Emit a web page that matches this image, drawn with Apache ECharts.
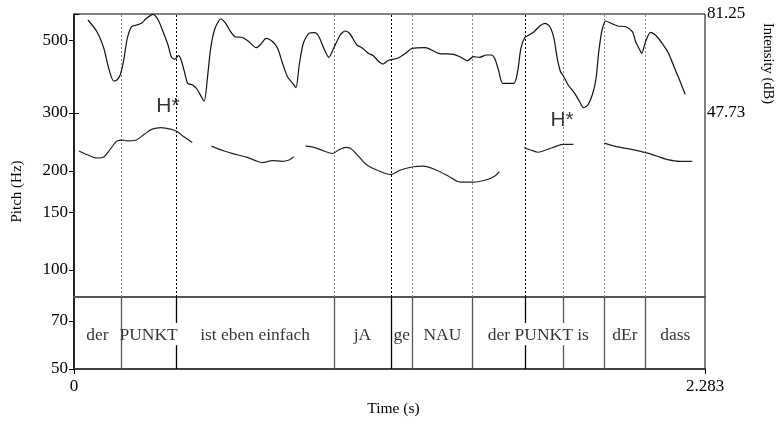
<!DOCTYPE html>
<html>
<head>
<meta charset="utf-8">
<script src="https://cdn.jsdelivr.net/npm/echarts@6/dist/echarts.min.js"></script>
<style>html,body{margin:0;padding:0;background:#fff}#c{width:783px;height:428px}</style>
</head>
<body>
<div id="c"></div>
<script>
// ---- data ----
const timeRange = [0, 2.283];
const pitchTicks = [50, 70, 100, 150, 200, 300, 500];
const pitchRange = [50, 600];
const intensityTicks = [47.73, 81.25];

// pitch contour (s, Hz); null = unvoiced gap
const pitchTimes = [0.018,0.048,0.084,0.109,0.133,0.157,0.175,0.193,0.223,0.253,0.283,0.314,0.350,0.374,0.398,0.428, null,
  0.497,0.543,0.591,0.627,0.657,0.681,0.717,0.754,0.778,0.796, null,
  0.838,0.868,0.904,0.935,0.959,0.983,1.001,1.031,1.061,1.097,1.146,1.179,1.228,1.264,1.312,1.354,1.397,1.445,1.493,1.523,1.539, null,
  1.629,1.650,1.680,1.710,1.746,1.770,1.807, null,
  1.919,1.963,2.012,2.072,2.108,2.144,2.192,2.237];
const pitchHz = [230,224,219,221,234,247,248,247,248,258,268,271,268,263,254,244, null,
  238,230,224,220,215,212,215,214,216,221, null,
  238,236,230,226,232,236,234,221,208,201,195,201,206,207,201,193,185,185,188,193,199, null,
  235,232,228,232,238,241,241, null,
  243,237,233,227,222,217,214,214];

// intensity contour (s, dB)
const intensityTimes = [0.051,0.084,0.109,0.127,0.145,0.157,0.169,0.181,0.195,0.211,0.229,0.247,0.265,0.289,0.308,0.326,0.344,0.356,0.368,0.383,0.392,0.404,0.416,0.434,0.452,0.476,0.488,0.500,0.516,0.537,0.555,0.573,0.589,0.613,0.637,0.667,0.681,0.703,0.727,0.745,0.763,0.781,0.800,0.812,0.824,0.839,0.860,0.880,0.896,0.914,0.932,0.950,0.974,0.992,1.010,1.035,1.053,1.077,1.095,1.113,1.131,1.143,1.153,1.183,1.213,1.237,1.285,1.334,1.388,1.412,1.440,1.461,1.484,1.509,1.527,1.539,1.553,1.569,1.609,1.623,1.635,1.650,1.665,1.683,1.705,1.723,1.741,1.756,1.768,1.780,1.790,1.808,1.832,1.850,1.864,1.880,1.898,1.910,1.920,1.932,1.946,1.965,1.989,2.019,2.043,2.055,2.069,2.077,2.091,2.109,2.127,2.152,2.175,2.200,2.218,2.236];
const intensityDb = [79.22,75.26,69.64,62.86,58.56,58.9,60.6,65.1,73.02,76.95,77.53,78.1,79.79,81.15,79.22,75.26,70.75,66.79,65.91,67.13,65.67,61.71,57.78,57.21,55.52,51.79,59.48,69.64,76.41,79.56,78.1,75.26,73.56,73.36,72.11,69.84,70.75,73.02,71.87,69.64,64.56,60.02,57.78,56.3,63.98,71.33,74.72,74.92,73.56,69.64,66.59,69.64,74.14,75.49,74.48,70.75,69.84,67.94,67.13,65.34,64.32,65.1,65.67,66.25,67.94,69.64,69.84,67.94,67.6,66.79,65.44,66.79,66.59,67.37,67.37,66.25,62.29,57.78,57.78,61.71,69.64,73.36,74.14,75.26,77.29,78.1,76.95,73.02,66.25,61.71,60.36,57.21,54.4,51.55,49.52,50.44,54.4,59.48,68.48,75.83,78.88,78.1,77.19,76.95,75.26,71.87,69.3,67.94,71.87,75.05,74.14,71.33,67.94,62.29,58.33,54.06];

// text tier
const tierEdges = [0, 0.170, 0.370, 0.940, 1.147, 1.225, 1.441, 1.919, 2.068, 2.283];
const tierLabels = ['der', 'PUNKT', 'ist eben einfach', 'jA', 'ge', 'NAU', 'der PUNKT is', 'dEr', 'dass'];
const extraMarks = [1.634, 1.769];          // additional boundary marks crossing the tier
const darkMarks = [0.370, 1.147, 1.634];     // boundaries drawn in black
const brokenMarks = [0.370, 1.634, 1.769];   // lines interrupted by the label text

// tone labels
const toneTimes = [0.340, 1.766];
const toneHz = [315, 286];
const toneLabels = ['H*', 'H*'];

// ---- build ----
const L = 74, W = 631, T = 14, H = 355, TIER = 72;
const serif = 'Liberation Serif';
const lg = v => Math.log10(v);

const pitchData = pitchTimes.map((t, i) => t === null ? [null, null] : [t, lg(pitchHz[i])]);
const intData = intensityTimes.map((t, i) => [t, intensityDb[i]]);

const innerEdges = tierEdges.slice(1, -1).concat(extraMarks).sort((a, b) => a - b);
const isDark = t => darkMarks.some(d => Math.abs(d - t) < 1e-6);
const isBroken = t => brokenMarks.some(d => Math.abs(d - t) < 1e-6);

const dottedLines = innerEdges.map(t => [
  {coord: [t, 0], lineStyle: {color: isDark(t) ? '#000' : '#888', type: [2, 2], width: 1}},
  {coord: [t, 1]}
]);
const tierLines = [];
innerEdges.forEach(t => {
  const ls = {color: isDark(t) ? '#000' : '#555', type: 'solid', width: 1.3};
  if (isBroken(t)) {
    tierLines.push([{coord: [t, 0], lineStyle: ls}, {coord: [t, 0.33]}]);
    tierLines.push([{coord: [t, 0.64], lineStyle: ls}, {coord: [t, 1]}]);
  } else {
    tierLines.push([{coord: [t, 0], lineStyle: ls}, {coord: [t, 1]}]);
  }
});
const tierText = tierLabels.map((s, i) => ({value: [(tierEdges[i] + tierEdges[i + 1]) / 2, 0.5], name: s}));
const toneData = toneTimes.map((t, i) => ({value: [t, lg(toneHz[i])], name: toneLabels[i]}));

const hiddenX = gi => ({type: 'value', gridIndex: gi, min: timeRange[0], max: timeRange[1], show: false});
const option = {
  animation: false,
  grid: [
    {left: L, top: T, width: W, height: H, show: true, borderColor: '#000', borderWidth: 1},
    {left: L, top: T, width: W, height: 99},
    {left: L, top: T, width: W, height: H - TIER},
    {left: L, top: T + H - TIER, width: W, height: TIER}
  ],
  xAxis: [
    {type: 'value', gridIndex: 0, min: timeRange[0], max: timeRange[1], position: 'bottom',
     name: 'Time (s)', nameLocation: 'middle', nameGap: 32,
     nameTextStyle: {fontFamily: serif, fontSize: 15.5, color: '#000', padding: [0, 0, 0, 8]},
     axisLine: {show: true, onZero: false, lineStyle: {color: '#000', width: 2}},
     axisTick: {show: true, length: 5, customValues: timeRange, lineStyle: {color: '#000'}},
     axisLabel: {customValues: timeRange, formatter: v => String(v), fontFamily: serif, fontSize: 17, color: '#000', margin: 9},
     splitLine: {show: false}},
    hiddenX(1),
    {type: 'value', gridIndex: 2, min: timeRange[0], max: timeRange[1], position: 'top',
     axisLine: {show: true, lineStyle: {color: '#555', width: 2}}, axisTick: {show: false}, axisLabel: {show: false}, splitLine: {show: false}},
    {type: 'value', gridIndex: 3, min: timeRange[0], max: timeRange[1], position: 'top',
     axisLine: {show: true, lineStyle: {color: '#555', width: 1.5}}, axisTick: {show: false}, axisLabel: {show: false}, splitLine: {show: false}}
  ],
  yAxis: [
    {type: 'value', gridIndex: 0, min: lg(pitchRange[0]), max: lg(pitchRange[1]), position: 'left',
     name: 'Pitch (Hz)', nameLocation: 'middle', nameGap: 49, nameRotate: 90,
     nameTextStyle: {fontFamily: serif, fontSize: 15, color: '#000'},
     axisLine: {show: true, lineStyle: {color: '#000', width: 1.5}},
     axisTick: {show: true, length: 5, customValues: pitchTicks.map(lg), lineStyle: {color: '#000'}},
     axisLabel: {customValues: pitchTicks.map(lg), formatter: v => String(Math.round(Math.pow(10, v))), fontFamily: serif, fontSize: 17, color: '#000', margin: 6},
     splitLine: {show: false}},
    {type: 'value', gridIndex: 1, min: intensityTicks[0], max: intensityTicks[1], position: 'right',
     name: 'Intensity (dB)', nameLocation: 'middle', nameGap: 62, nameRotate: -90,
     nameTextStyle: {fontFamily: serif, fontSize: 14.5, color: '#000'},
     axisLine: {show: false},
     axisTick: {show: true, length: 5, customValues: intensityTicks, lineStyle: {color: '#000'}},
     axisLabel: {customValues: intensityTicks, formatter: v => String(v), fontFamily: serif, fontSize: 17, color: '#000', margin: 9},
     splitLine: {show: false}},
    {type: 'value', gridIndex: 2, min: 0, max: 1, show: false},
    {type: 'value', gridIndex: 3, min: 0, max: 1, show: false}
  ],
  series: [
    {type: 'line', xAxisIndex: 2, yAxisIndex: 2, data: [], silent: true,
     markLine: {symbol: 'none', silent: true, label: {show: false}, data: dottedLines}},
    {type: 'line', xAxisIndex: 3, yAxisIndex: 3, data: [], silent: true,
     markLine: {symbol: 'none', silent: true, label: {show: false}, data: tierLines}},
    {type: 'scatter', xAxisIndex: 3, yAxisIndex: 3, symbolSize: 0, data: tierText, silent: true,
     label: {show: true, position: 'inside', offset: [0, 2], formatter: p => p.name, fontFamily: serif, fontSize: 17.5, color: '#000'}},
    {type: 'line', xAxisIndex: 1, yAxisIndex: 1, data: intData, showSymbol: false, smooth: 0.25, z: 5,
     lineStyle: {color: '#111', width: 1.2}},
    {type: 'line', xAxisIndex: 0, yAxisIndex: 0, data: pitchData, showSymbol: false, smooth: 0.3, connectNulls: false, z: 5,
     lineStyle: {color: '#222', width: 1.2}},
    {type: 'scatter', xAxisIndex: 0, yAxisIndex: 0, symbolSize: 0, data: toneData, silent: true,
     label: {show: true, position: 'inside', formatter: p => p.name, fontFamily: 'Liberation Sans', fontSize: 21, color: '#000'}}
  ]
};
echarts.init(document.getElementById('c'), null, {renderer: 'canvas'}).setOption(option);
</script>
</body>
</html>
